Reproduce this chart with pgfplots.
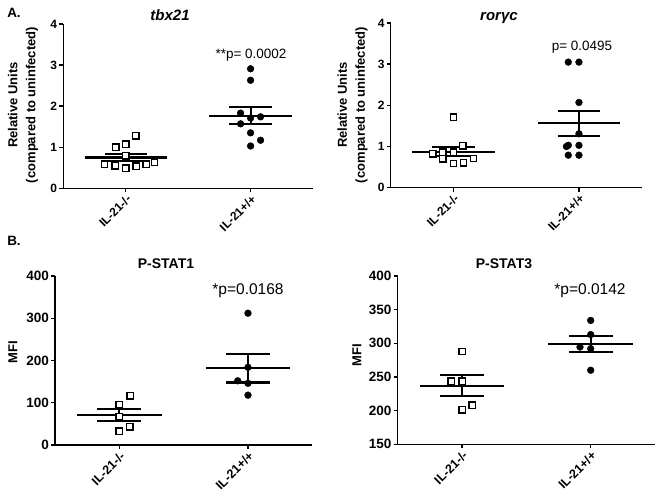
\documentclass[border=0pt]{standalone}
\usepackage{fontspec}
\setmainfont{Liberation Sans}
\usepackage{pgfplots}
\pgfplotsset{compat=1.18}
\pgfplotsset{
  gp/.style={
    scale only axis,
    axis lines=left,
    axis line style={-, line width=1.5pt},
    tick style={line width=1.4pt, black},
    tick align=outside,
    major tick length=4pt,
    xmin=-0.5, xmax=1.5,
    xtick={0,1},
    xticklabels={IL-21-/-, IL-21+/+},
    clip=false,
    /pgf/number format/assume math mode=true,
    y tick label style={font=\fontsize{12}{14}\selectfont\bfseries, inner sep=2pt},
    x tick label style={font=\fontsize{12}{14}\selectfont\bfseries, rotate=45, anchor=north east, inner sep=1pt},
  },
  sq/.style={only marks, mark=square*, mark size=3.2pt, mark options={fill=white, draw=black, line width=1.4pt}},
  ci/.style={only marks, mark=*, mark size=3.4pt, mark options={fill=black, draw=black}},
  ml/.style={black, line width=2.1pt, mark=none},
}
\begin{document}
\begin{tikzpicture}
\useasboundingbox (0,0) rectangle (660pt,501pt);

% ---------- tbx21 ----------
\begin{axis}[gp, at={(63.3pt,312.7pt)}, anchor=south west, width=249.7pt, height=164.3pt,
  ymin=0, ymax=4, ytick={0,1,2,3,4}]
\addplot[sq] coordinates {(0.08,1.28) (0,1.07) (-0.08,1.00) (0,0.79) (-0.17,0.59) (-0.085,0.55) (0,0.49) (0.085,0.54) (0.165,0.59) (0.23,0.63)};
\addplot[ci] coordinates {(1,2.91) (1,2.63) (0.92,1.83) (1,1.71) (1.08,1.74) (0.92,1.57) (1,1.35) (1.08,1.17) (1,1.03)};
\addplot[ml] coordinates {(-0.33,0.75) (0.33,0.75)};
\addplot[ml] coordinates {(-0.17,0.84) (0.17,0.84)};
\addplot[ml] coordinates {(-0.17,0.66) (0.17,0.66)};
\addplot[ml] coordinates {(0,0.66) (0,0.84)};
\addplot[ml] coordinates {(0.67,1.77) (1.33,1.77)};
\addplot[ml] coordinates {(0.83,1.98) (1.17,1.98)};
\addplot[ml] coordinates {(0.83,1.56) (1.17,1.56)};
\addplot[ml] coordinates {(1,1.56) (1,1.98)};
\end{axis}

% ---------- rorgc ----------
\begin{axis}[gp, at={(390.7pt,313.3pt)}, anchor=south west, width=251pt, height=164.7pt,
  ymin=0, ymax=4, ytick={0,1,2,3,4}]
\addplot[sq] coordinates {(0,1.71) (0.075,1.02) (-0.165,0.82) (-0.085,0.86) (0,0.86) (-0.085,0.70) (0,0.59) (0.08,0.60) (0.16,0.71)};
\addplot[ci] coordinates {(0.915,3.05) (1,3.05) (1,2.07) (1,1.31) (0.915,1.03) (0.9,1.00) (1,1.03) (0.915,0.79) (1,0.79)};
\addplot[ml] coordinates {(-0.33,0.87) (0.33,0.87)};
\addplot[ml] coordinates {(-0.17,0.98) (0.17,0.98)};
\addplot[ml] coordinates {(-0.17,0.77) (0.17,0.77)};
\addplot[ml] coordinates {(0,0.77) (0,0.98)};
\addplot[ml] coordinates {(0.67,1.57) (1.33,1.57)};
\addplot[ml] coordinates {(0.83,1.87) (1.17,1.87)};
\addplot[ml] coordinates {(0.83,1.26) (1.17,1.26)};
\addplot[ml] coordinates {(1,1.26) (1,1.87)};
\end{axis}

% ---------- P-STAT1 ----------
\begin{axis}[gp, at={(55pt,56pt)}, anchor=south west, width=257.3pt, height=169pt,
  ymin=0, ymax=400, ytick={0,100,200,300,400},
  y tick label style={font=\fontsize{13.5}{15}\selectfont\bfseries},
  x tick label style={font=\fontsize{12.5}{14}\selectfont\bfseries}]
\addplot[sq] coordinates {(0.083,116) (0,95) (0,67) (0.08,43) (0,33)};
\addplot[ci] coordinates {(1,312) (1,184) (0.92,152) (1,146) (1,118)};
\addplot[ml] coordinates {(-0.33,71) (0.33,71)};
\addplot[ml] coordinates {(-0.17,86) (0.17,86)};
\addplot[ml] coordinates {(-0.17,56) (0.17,56)};
\addplot[ml] coordinates {(0,56) (0,86)};
\addplot[ml] coordinates {(0.67,183) (1.33,183)};
\addplot[ml] coordinates {(0.83,216) (1.17,216)};
\addplot[ml] coordinates {(0.83,148) (1.17,148)};
\addplot[ml] coordinates {(1,148) (1,216)};
\end{axis}

% ---------- P-STAT3 ----------
\begin{axis}[gp, at={(397.7pt,56.7pt)}, anchor=south west, width=257.3pt, height=168.3pt,
  ymin=150, ymax=400, ytick={150,200,250,300,350,400},
  y tick label style={font=\fontsize{13.5}{15}\selectfont\bfseries},
  x tick label style={font=\fontsize{12.5}{14}\selectfont\bfseries}]
\addplot[sq] coordinates {(0,288) (-0.083,244) (0,244) (0.078,208) (0,201)};
\addplot[ci] coordinates {(1,334) (1,313) (0.917,294.5) (1,292) (1,260)};
\addplot[ml] coordinates {(-0.33,237) (0.33,237)};
\addplot[ml] coordinates {(-0.17,252.5) (0.17,252.5)};
\addplot[ml] coordinates {(-0.17,221.5) (0.17,221.5)};
\addplot[ml] coordinates {(0,221.5) (0,252.5)};
\addplot[ml] coordinates {(0.67,299) (1.33,299)};
\addplot[ml] coordinates {(0.83,311) (1.17,311)};
\addplot[ml] coordinates {(0.83,287) (1.17,287)};
\addplot[ml] coordinates {(1,287) (1,311)};
\end{axis}

% ---------- texts ----------
\node[font=\fontsize{13.5}{15}\selectfont\bfseries] at (14pt,488pt) {A.};
\node[font=\fontsize{13.5}{15}\selectfont\bfseries] at (14pt,260pt) {B.};
\node[font=\fontsize{15}{17}\selectfont\bfseries\itshape] at (170pt,486pt) {tbx21};
\node[font=\fontsize{15}{17}\selectfont\bfseries\itshape] at (499pt,483pt) {rorγc};
\node[font=\fontsize{14}{16}\selectfont\bfseries] at (166pt,237pt) {P-STAT1};
\node[font=\fontsize{14}{16}\selectfont\bfseries] at (504pt,237pt) {P-STAT3};
\node[font=\fontsize{13.5}{15}\selectfont] at (251pt,446pt) {**p= 0.0002};
\node[font=\fontsize{13.5}{15}\selectfont] at (582pt,454pt) {p= 0.0495};
\node[font=\fontsize{15.5}{17}\selectfont] at (248pt,210pt) {*p=0.0168};
\node[font=\fontsize{15.5}{17}\selectfont] at (590pt,210pt) {*p=0.0142};
\node[rotate=90, align=center, font=\fontsize{13}{18}\selectfont\bfseries] at (23pt,396pt) {Relative Units\\(compared to uninfected)};
\node[rotate=90, align=center, font=\fontsize{13}{18}\selectfont\bfseries] at (352.5pt,396pt) {Relative Units\\(compared to uninfected)};
\node[rotate=90, font=\fontsize{13}{15}\selectfont\bfseries] at (13pt,149pt) {MFI};
\node[rotate=90, font=\fontsize{13}{15}\selectfont\bfseries] at (357pt,146pt) {MFI};
\end{tikzpicture}
\end{document}
